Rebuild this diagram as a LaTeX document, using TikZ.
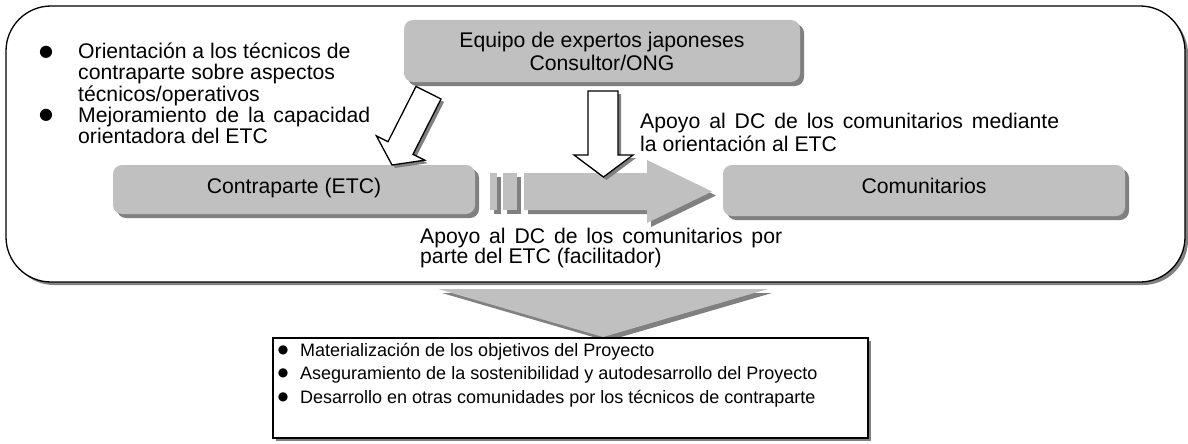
\documentclass[tikz,border=0pt]{standalone}
\usepackage{fontspec}
\setmainfont{Liberation Sans}
\newfontfamily\symfont{DejaVu Sans}
\usetikzlibrary{shadows}
\definecolor{boxgray}{RGB}{192,192,192}
\definecolor{shadowgray}{RGB}{128,128,128}
\begin{document}
\begin{tikzpicture}[x=1pt,y=-1pt,
  mainfont/.style={font=\fontsize{21.2}{21}\selectfont},
  smallfont/.style={font=\fontsize{18}{18}\selectfont},
  gshadow/.style={drop shadow={shadow xshift=4pt,shadow yshift=-4pt,fill=shadowgray,opacity=1}},
  wshadow/.style={drop shadow={shadow xshift=3pt,shadow yshift=-3pt,fill=shadowgray,opacity=1}},
  graybox/.style={fill=boxgray,draw=none,rounded corners=9pt,gshadow,mainfont,inner sep=0pt},
  blockarrow/.style={fill=white,draw=black,line width=1.3pt,line join=miter,wshadow},
  grayshape/.style={fill=boxgray,draw=none,gshadow},
  txt/.style={mainfont,inner sep=0pt,anchor=base west},
  stxt/.style={smallfont,inner sep=0pt,anchor=base west},
  bul/.style={inner sep=0pt,anchor=center,font=\symfont\fontsize{16}{16}\selectfont},
  sbul/.style={inner sep=0pt,anchor=center,font=\symfont\fontsize{12}{12}\selectfont}
]
\useasboundingbox (0,0) rectangle (1188,444);

% outer rounded frame
\draw[fill=white,line width=1.3pt,rounded corners=45pt,wshadow] (6,6) rectangle (1185,282);

% top-left bullets
\node[bul] (b1) at (46,52) {●};
\node[txt] (t1) at (78,59) {Orientación a los técnicos de};
\node[txt] (t2) at (78,80) {contraparte sobre aspectos};
\node[txt] (t3) at (78,101) {técnicos/operativos};
\node[bul] (b2) at (46,115) {●};
\node[txt] (t4) at (78,122) {\makebox[292pt][s]{Mejoramiento de la capacidad}};
\node[txt] (t5) at (78,143) {orientadora del ETC};

% boxes
\node[graybox,minimum width=396pt,minimum height=62pt,align=center,
      font=\fontsize{21.2}{23}\selectfont] (equipo) at (602,51)
      {Equipo de expertos japoneses\\Consultor/ONG};
\node[graybox,minimum width=362pt,minimum height=49pt,text height=15pt,text depth=8pt] (contra) at (294,189.5) {Contraparte (ETC)};
\node[graybox,minimum width=402pt,minimum height=51pt,text height=15pt,text depth=10pt] (comu) at (924,190.5) {Comunitarios};

% big gray arrow with bars
\fill[grayshape] (490,173) rectangle (497,210);
\fill[grayshape] (503,173) rectangle (517,210);
\fill[grayshape] (524,173) -- (647,173) -- (647,160) -- (712,191.5) -- (647,223) -- (647,210) -- (524,210) -- cycle;

% white down arrow
\draw[blockarrow] (588,91) -- (618,91) -- (618,155) -- (633,155) -- (603.5,177) -- (574,155) -- (588,155) -- cycle;

% white diagonal arrow
\draw[blockarrow] (416,86.4) -- (441,99) -- (413,154.3) -- (424.7,160.2) -- (392,165) -- (376.4,135.9) -- (388,141.7) -- cycle;

% labels
\node[txt] (l1) at (640,128) {\makebox[419pt][s]{Apoyo al DC de los comunitarios mediante}};
\node[txt] (l2) at (640,151) {la orientación al ETC};
\node[txt] (l3) at (420,243) {\makebox[362pt][s]{Apoyo al DC de los comunitarios por}};
\node[txt] (l4) at (420,263) {parte del ETC (facilitador)};

% big down chevron
\fill[grayshape] (438,289) -- (768,289) -- (603,337) -- cycle;

% bottom box
\draw[fill=white,line width=1.3pt,wshadow] (273,338) rectangle (868,438);
\node[sbul] (c1) at (283,350) {●};
\node[stxt] (r1) at (300,356) {Materialización de los objetivos del Proyecto};
\node[sbul] (c2) at (283,373) {●};
\node[stxt] (r2) at (300,379) {Aseguramiento de la sostenibilidad y autodesarrollo del Proyecto};
\node[sbul] (c3) at (283,397) {●};
\node[stxt] (r3) at (300,403) {Desarrollo en otras comunidades por los técnicos de contraparte};
\end{tikzpicture}
\end{document}
